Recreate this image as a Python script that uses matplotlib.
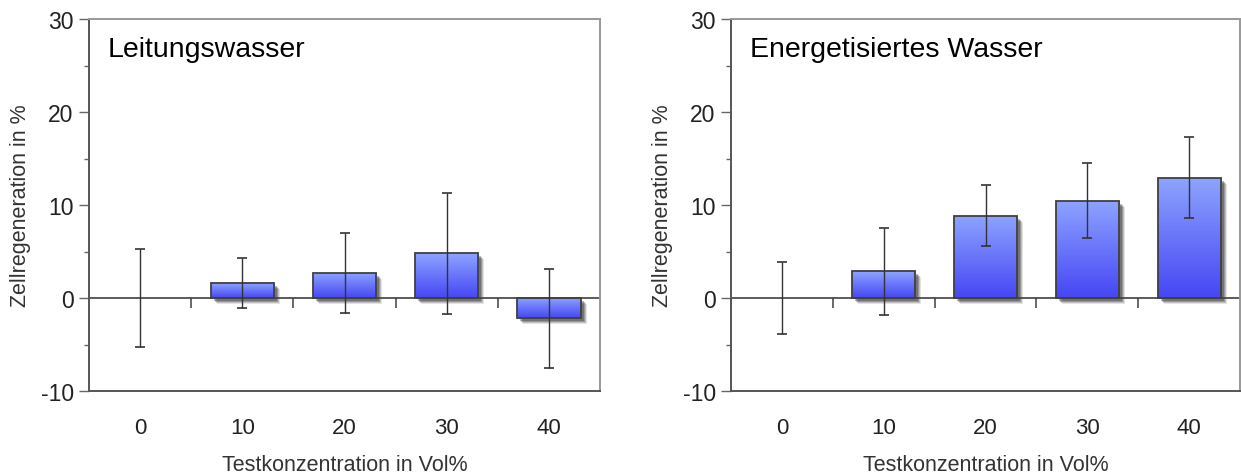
import matplotlib
matplotlib.use("Agg")
import matplotlib.pyplot as plt
import matplotlib.transforms as mtransforms
from matplotlib.colors import LinearSegmentedColormap
from matplotlib.patches import Rectangle
from matplotlib.markers import TICKDOWN
import numpy as np

plt.rcParams["font.family"] = ["Liberation Sans", "DejaVu Sans"]
plt.rcParams["axes.unicode_minus"] = False

concentrations = ["0", "10", "20", "30", "40"]
panel_titles = ["Leitungswasser", "Energetisiertes Wasser"]
tap_mean = [0.0, 1.6, 2.7, 4.8, -2.2]
tap_err = [5.25, 2.7, 4.3, 6.5, 5.35]
energ_mean = [0.0, 2.85, 8.85, 10.45, 12.95]
energ_err = [3.85, 4.7, 3.3, 4.05, 4.35]

xlabel = "Testkonzentration in Vol%"
ylabel = "Zellregeneration in %"

bar_cmap = LinearSegmentedColormap.from_list("bar", ["#8ea4ff", "#4646f4"])
gradient = np.linspace(0, 1, 256).reshape(-1, 1)


def draw_panel(ax, means, errs, title):
    x = np.arange(len(concentrations))
    width = 0.62
    for xi, m in zip(x, means):
        if m == 0:
            continue
        lo, hi = min(0, m), max(0, m)
        # soft drop shadow, a few stacked offset rectangles
        for k, alpha in [(6, 0.12), (5, 0.18), (4, 0.25), (3, 0.3)]:
            tr = mtransforms.offset_copy(ax.transData, fig=ax.figure, x=k, y=-k, units="dots")
            ax.add_patch(Rectangle((xi - width / 2, lo), width, hi - lo, transform=tr,
                                   facecolor="#202020", edgecolor="none", alpha=alpha, zorder=1))
        rect = Rectangle((xi - width / 2, lo), width, hi - lo, facecolor="none",
                         edgecolor="#404040", linewidth=1.3, zorder=3)
        ax.add_patch(rect)
        img = ax.imshow(gradient, cmap=bar_cmap, aspect="auto", origin="upper",
                        extent=[xi - width / 2, xi + width / 2, lo, hi], zorder=2)
        img.set_clip_path(rect)

    ax.axhline(0, color="#404040", linewidth=1.2, zorder=2.5)
    ax.plot(x[:-1] + 0.5, np.zeros(len(x) - 1), linestyle="none", marker=TICKDOWN,
            markersize=7, markeredgewidth=1.1, color="#404040", zorder=2.5)
    ax.errorbar(x, means, yerr=errs, fmt="none", ecolor="#333333", elinewidth=1.0,
                capsize=3.5, capthick=1.2, zorder=4)

    ax.set_xlim(-0.5, len(concentrations) - 0.5)
    ax.set_ylim(-10, 30)
    ax.set_yticks([-10, 0, 10, 20, 30])
    ax.set_yticks([-5, 5, 15, 25], minor=True)
    ax.set_xticks(x, concentrations)
    ax.tick_params(axis="x", length=0, pad=19, labelsize=16, labelcolor="#222222")
    ax.tick_params(axis="y", which="major", length=7, width=1, color="#666666",
                   labelsize=16.5, labelcolor="#222222", pad=4)
    ax.tick_params(axis="y", which="minor", length=3.5, width=1, color="#666666")
    for side in ["left", "bottom"]:
        ax.spines[side].set_color("#555555")
        ax.spines[side].set_linewidth(1.4)
    for side in ["top", "right"]:
        ax.spines[side].set_color("#999999")
        ax.spines[side].set_linewidth(1.4)
    ax.set_xlabel(xlabel, fontsize=15.5, color="#333333", labelpad=11.5)
    ax.set_ylabel(ylabel, fontsize=15.5, color="#333333", labelpad=7)
    ax.text(0.037, 0.919, title, transform=ax.transAxes, fontsize=20.5,
            color="black", va="center", ha="left")


fig = plt.figure(figsize=(12.41, 4.77), dpi=100)
W, H = 1241, 477
ax1 = fig.add_axes([89 / W, 1 - 392 / H, 511 / W, 372 / H])
ax2 = fig.add_axes([731 / W, 1 - 392 / H, 509 / W, 372 / H])

draw_panel(ax1, tap_mean, tap_err, panel_titles[0])
draw_panel(ax2, energ_mean, energ_err, panel_titles[1])

fig.savefig("out.png", dpi=100)
